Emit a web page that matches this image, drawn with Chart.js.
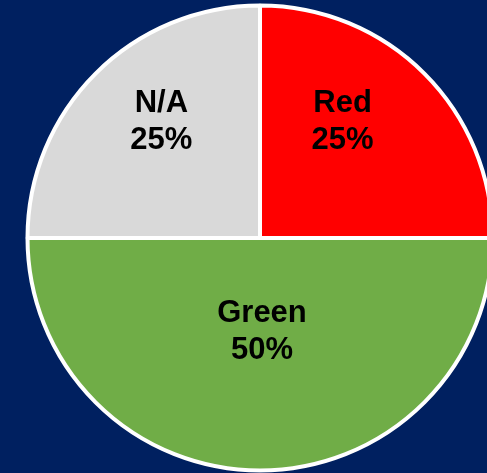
<!DOCTYPE html>
<html>
<head>
<meta charset="utf-8">
<script src="https://cdn.jsdelivr.net/npm/chart.js@4/dist/chart.umd.min.js"></script>
<style>
  html, body {
    margin: 0;
    padding: 0;
    width: 487px;
    height: 473px;
    overflow: hidden;
    background: #002060;
  }
  #wrap {
    position: absolute;
    left: 0;
    top: 0;
    width: 520px;
    height: 476px;
  }
</style>
</head>
<body>
<div id="wrap"><canvas id="pie-chart" width="520" height="476"></canvas></div>
<script>
const categories = ['Red', 'Green', 'N/A'];
const shares = [25, 50, 25];
const sliceColors = ['#FF0000', '#70AD47', '#D9D9D9'];

// label placement per slice: distance along the mid angle (fraction of radius) plus a nudge
const labelPlacement = [
  { dist: 0.6, dx: -16, dy: -17 },
  { dist: 0.4, dx: 2, dy: 1 },
  { dist: 0.6, dx: 0, dy: -17 },
];

const sliceLabels = {
  id: 'sliceLabels',
  afterDatasetsDraw(chart) {
    const ctx = chart.ctx;
    const meta = chart.getDatasetMeta(0);
    ctx.save();
    ctx.font = 'bold 31px "Liberation Sans", Arial, sans-serif';
    ctx.fillStyle = '#000000';
    ctx.textAlign = 'center';
    ctx.textBaseline = 'middle';
    meta.data.forEach((arc, i) => {
      const p = labelPlacement[i];
      const mid = (arc.startAngle + arc.endAngle) / 2;
      const x = arc.x + Math.cos(mid) * arc.outerRadius * p.dist + p.dx;
      const y = arc.y + Math.sin(mid) * arc.outerRadius * p.dist + p.dy;
      ctx.fillText(categories[i], x, y - 18.5);
      ctx.fillText(shares[i] + '%', x, y + 18.5);
    });
    ctx.restore();
  },
};

new Chart(document.getElementById('pie-chart'), {
  type: 'pie',
  data: {
    labels: categories,
    datasets: [
      {
        data: shares,
        backgroundColor: sliceColors,
        borderColor: '#FFFFFF',
        borderWidth: 4,
        hoverOffset: 0,
      },
    ],
  },
  options: {
    responsive: false,
    animation: false,
    radius: 232.5,
    layout: { padding: 0 },
    plugins: {
      legend: { display: false },
      tooltip: { enabled: false },
    },
  },
  plugins: [sliceLabels],
});
</script>
</body>
</html>
